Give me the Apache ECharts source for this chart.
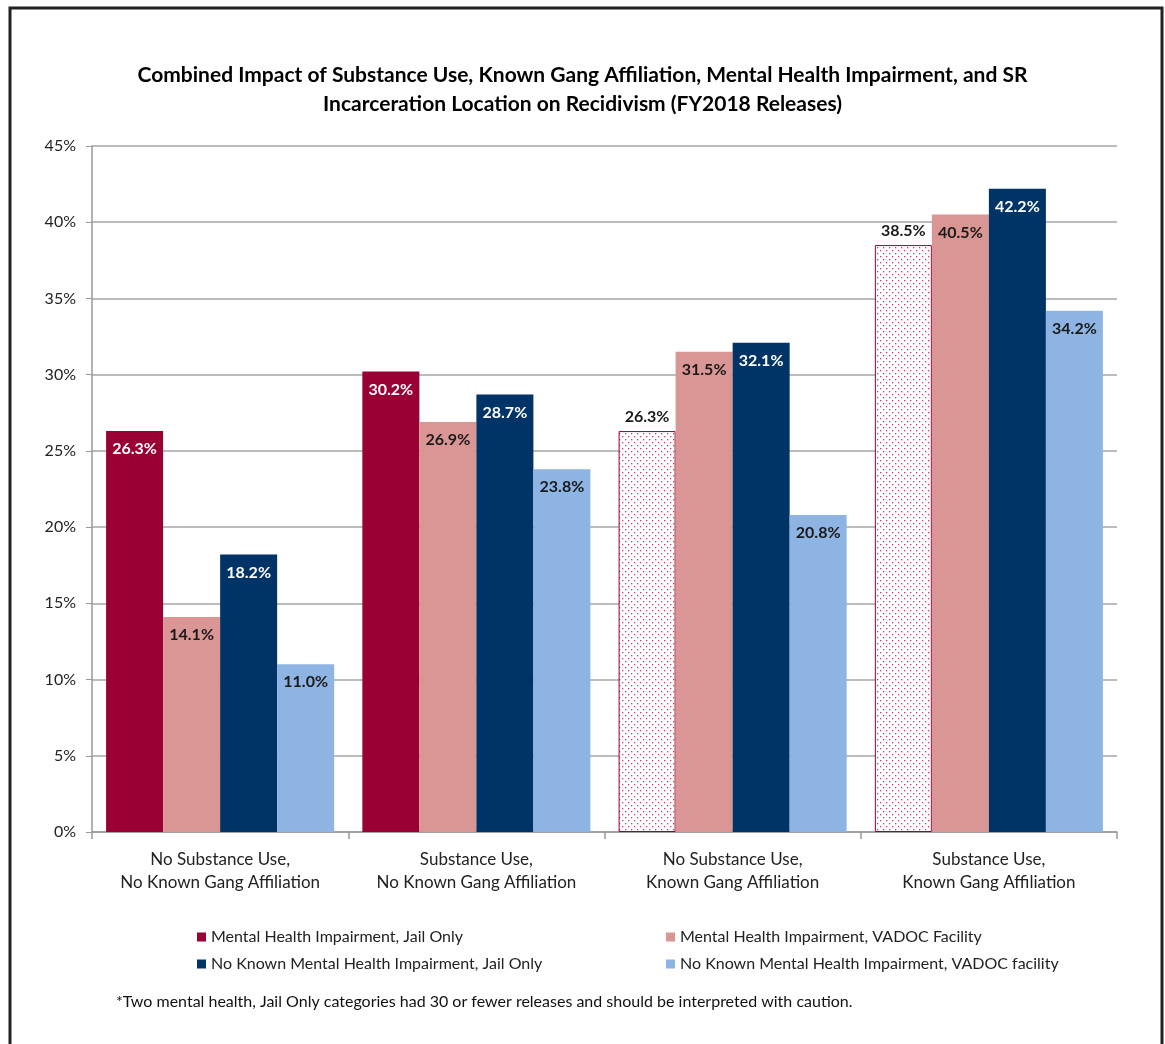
<!DOCTYPE html>
<html>
<head>
<meta charset="utf-8">
<script src="https://cdn.jsdelivr.net/npm/echarts@6/dist/echarts.min.js"></script>
<style>
  html, body { margin: 0; padding: 0; background: #fff; }
  #chart { width: 1165px; height: 1044px; }
</style>
</head>
<body>
<div id="chart"></div>
<script>
// categories
const categories = [
  'No Substance Use,\nNo Known Gang Affiliation',
  'Substance Use,\nNo Known Gang Affiliation',
  'No Substance Use,\nKnown Gang Affiliation',
  'Substance Use,\nKnown Gang Affiliation'
];
// series values (%)
const mhJail = [26.3, 30.2, 26.3, 38.5];
const mhVadoc = [14.1, 26.9, 31.5, 40.5];
const noMhJail = [18.2, 28.7, 32.1, 42.2];
const noMhVadoc = [11.0, 23.8, 20.8, 34.2];
// which mhJail bars are "interpret with caution" (dotted)
const cautionIdx = [2, 3];

const seriesNames = [
  'Mental Health Impairment, Jail Only',
  'Mental Health Impairment, VADOC Facility',
  'No Known Mental Health Impairment, Jail Only',
  'No Known Mental Health Impairment, VADOC facility'
];

const FONT = 'Lato, "Noto Sans", sans-serif';
const crimson = '#990033';

// 小圆点填充
function dotPattern() {
  const c = document.createElement('canvas');
  c.width = 6; c.height = 6;
  const ctx = c.getContext('2d');
  ctx.fillStyle = '#ffffff';
  ctx.fillRect(0, 0, 6, 6);
  ctx.fillStyle = '#c8406a';
  ctx.fillRect(1, 1, 1.3, 1.3);
  ctx.fillRect(4, 4, 1.3, 1.3);
  return c;
}
const pattern = { image: dotPattern(), repeat: 'repeat' };

const chart = echarts.init(document.getElementById('chart'));

const innerLabel = (color) => ({
  show: true,
  position: 'insideTop',
  distance: 10,
  formatter: (p) => p.value.toFixed(1) + '%',
  color: color,
  fontFamily: FONT,
  fontWeight: 'bold',
  fontSize: 16
});

const mhJailData = mhJail.map((v, i) => {
  if (cautionIdx.indexOf(i) >= 0) {
    return {
      value: v,
      itemStyle: { color: pattern, borderColor: crimson, borderWidth: 1 },
      label: { position: 'top', distance: 6, color: '#1a1a1a' }
    };
  }
  return v;
});

const legendText = { fontFamily: FONT, fontSize: 16, color: '#222' };

const option = {
  backgroundColor: '#fff',
  animation: false,
  title: {
    text: 'Combined Impact of Substance Use, Known Gang Affiliation, Mental Health Impairment, and SR\nIncarceration Location on Recidivism (FY2018 Releases)',
    left: 'center',
    top: 56,
    textStyle: {
      fontFamily: FONT,
      fontSize: 21,
      fontWeight: 'bold',
      color: '#000',
      lineHeight: 29,
      align: 'center'
    }
  },
  legend: [
    {
      data: [seriesNames[0], seriesNames[2]],
      orient: 'vertical',
      left: 192,
      top: 924,
      itemWidth: 9,
      itemHeight: 9,
      itemGap: 11,
      icon: 'rect',
      textStyle: legendText
    },
    {
      data: [seriesNames[1], seriesNames[3]],
      orient: 'vertical',
      left: 661,
      top: 924,
      itemWidth: 9,
      itemHeight: 9,
      itemGap: 11,
      icon: 'rect',
      textStyle: legendText
    }
  ],
  grid: { left: 92, right: 48, top: 146, bottom: 212 },
  xAxis: {
    type: 'category',
    data: categories,
    axisLine: { lineStyle: { color: '#999', width: 1.5 } },
    axisTick: { show: true, interval: 0, length: 7, lineStyle: { color: '#999', width: 1.5 } },
    axisLabel: {
      interval: 0,
      margin: 16,
      fontFamily: FONT,
      fontSize: 17,
      lineHeight: 23,
      color: '#222'
    }
  },
  yAxis: {
    type: 'value',
    min: 0,
    max: 45,
    interval: 5,
    axisLine: { show: true, lineStyle: { color: '#999', width: 1.5 } },
    axisTick: { show: true, length: 6, lineStyle: { color: '#999' } },
    axisLabel: {
      formatter: '{value}%',
      margin: 16,
      fontFamily: FONT,
      fontSize: 16,
      color: '#222'
    },
    splitLine: { lineStyle: { color: '#a6a6a6', width: 1.5 } }
  },
  series: [
    {
      name: seriesNames[0], type: 'bar', data: mhJailData,
      barGap: '0%', barCategoryGap: '11%',
      itemStyle: { color: crimson },
      label: innerLabel('#fff')
    },
    {
      name: seriesNames[1], type: 'bar', data: mhVadoc,
      itemStyle: { color: '#d99694' },
      label: innerLabel('#1a1a1a')
    },
    {
      name: seriesNames[2], type: 'bar', data: noMhJail,
      itemStyle: { color: '#003366' },
      label: innerLabel('#fff')
    },
    {
      name: seriesNames[3], type: 'bar', data: noMhVadoc,
      itemStyle: { color: '#8eb4e3' },
      label: innerLabel('#1a1a1a')
    }
  ],
  graphic: [
    {
      type: 'rect',
      shape: { x: 10, y: 8, width: 1152, height: 1060 },
      style: { fill: null, stroke: '#222', lineWidth: 3 },
      silent: true
    },
    {
      type: 'text',
      left: 116,
      top: 994,
      style: {
        text: '*Two mental health, Jail Only categories had 30 or fewer releases and should be interpreted with caution.',
        fontFamily: FONT,
        fontSize: 16,
        fill: '#111'
      }
    }
  ]
};

chart.setOption(option);
</script>
</body>
</html>
